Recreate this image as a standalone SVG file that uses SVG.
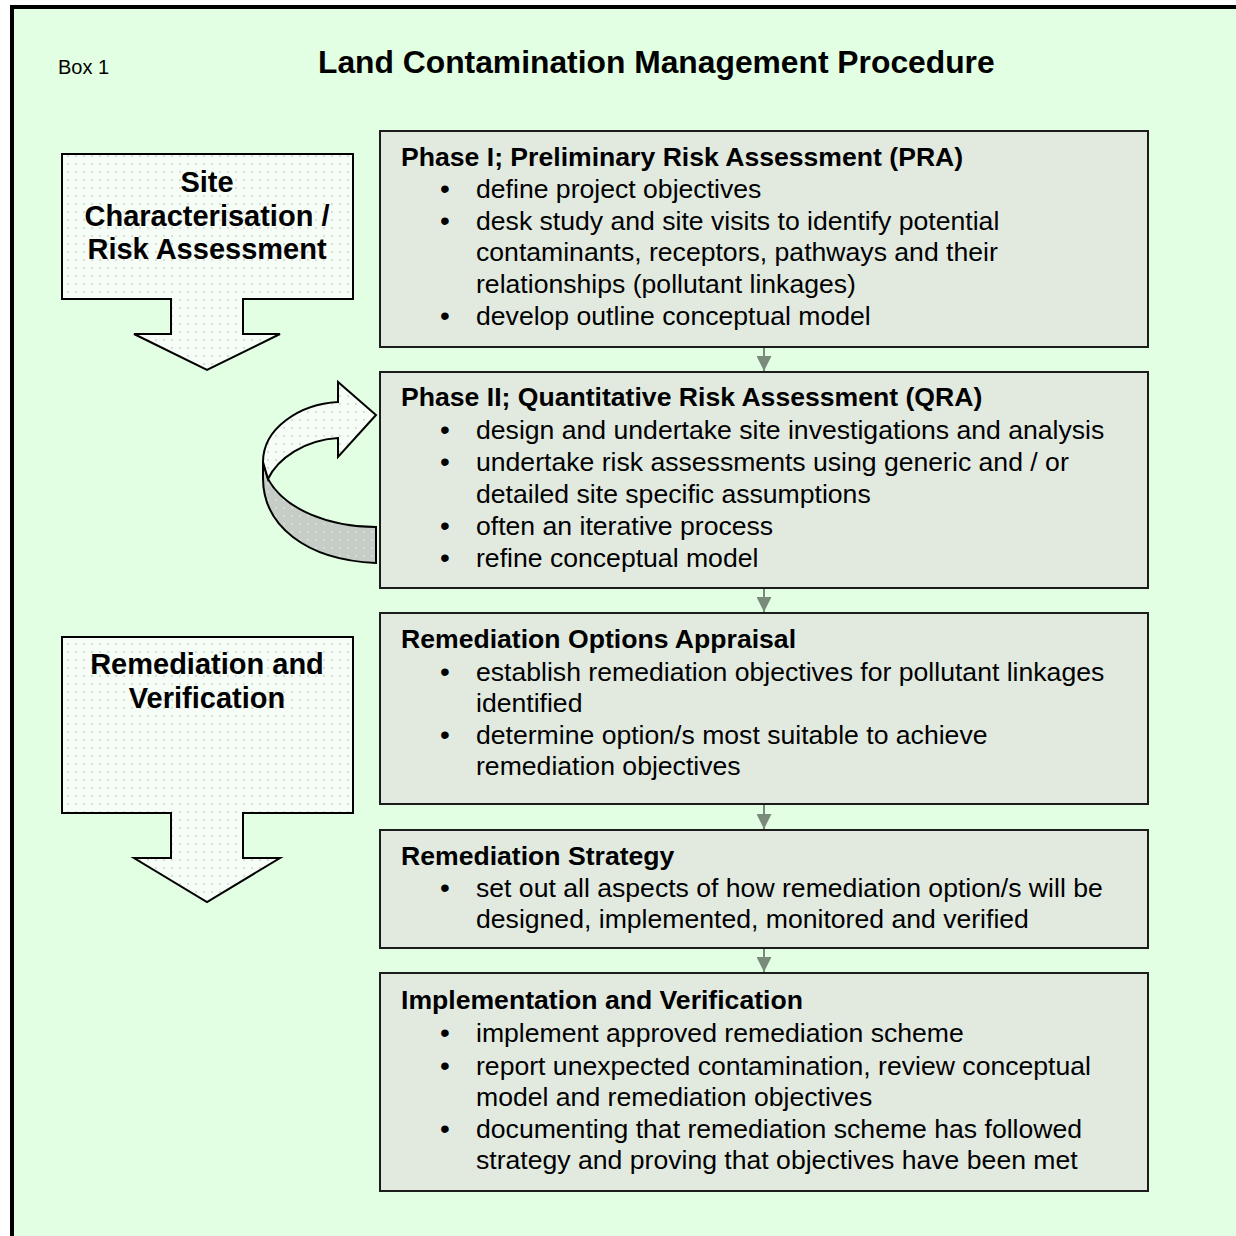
<svg xmlns="http://www.w3.org/2000/svg" width="1236" height="1236" viewBox="0 0 1236 1236">
<defs>
<pattern id="dots" width="8" height="8" patternUnits="userSpaceOnUse">
<rect width="8" height="8" fill="#f6fcf6"/>
<circle cx="4" cy="4" r="0.9" fill="#c9d2c9"/>
</pattern>
<pattern id="dotsDark" width="8" height="8" patternUnits="userSpaceOnUse">
<rect width="8" height="8" fill="#c6cdc6"/>
<circle cx="4" cy="4" r="0.9" fill="#dde3dd"/>
</pattern>
<marker id="ah" markerWidth="15" markerHeight="15" refX="15" refY="7.5" orient="auto" markerUnits="userSpaceOnUse">
<path d="M0,0 L15,7.5 L0,15 Z" fill="#7b8b7b"/>
</marker>
</defs>
<style>
text{font-family:"Liberation Sans",Arial,sans-serif;fill:#000}
.t{font-size:26.6px;font-weight:bold}
.b{font-size:26.6px}
.bl{font-size:28px;text-anchor:middle}
.arr{font-size:29px;font-weight:bold;text-anchor:middle}
.box{fill:#e2eae0;stroke:#1c1c1c;stroke-width:2}
.big{fill:url(#dots);stroke:#000;stroke-width:2;stroke-linejoin:miter}
.con{stroke:#7b8b7b;stroke-width:2;fill:none}
</style>
<rect x="0" y="0" width="1236" height="1236" fill="#ffffff"/>
<rect x="12" y="7" width="1240" height="1240" fill="#e3ffe3" stroke="#000" stroke-width="4"/>
<text x="58" y="74" style="font-size:20px">Box 1</text>
<text x="318" y="73" style="font-size:31.8px;font-weight:bold">Land Contamination Management Procedure</text>

<g id="arrow-site">
<path class="big" d="M62,154 H353 V299 H243 V334 H280 L207,370 L134,334 H171 V299 H62 Z"/>
<text class="arr" x="207" y="192">Site</text>
<text class="arr" x="207" y="226">Characterisation /</text>
<text class="arr" x="207" y="259">Risk Assessment</text>
</g>

<g id="arrow-remediation">
<path class="big" d="M62,637 H353 V813 H243 V858 H280 L207,902 L134,858 H171 V813 H62 Z"/>
<text class="arr" x="207" y="674">Remediation and</text>
<text class="arr" x="207" y="708">Verification</text>
</g>

<g id="curved-arrow">
<path fill="url(#dotsDark)" stroke="#000" stroke-width="2" d="M263,462 L268,479 C285,510 330,527 376,527 L376,563 C305,560 263,525 263,478 Z"/>
<path fill="url(#dots)" stroke="#000" stroke-width="2" stroke-linejoin="miter" d="M338,402 L338,382 L376,415 L338,457 L338,438 C305,440 278,458 268,479 L263,462 C263,428 300,404 338,402 Z"/>
</g>

<g id="phase1">
<rect class="box" x="380" y="131" width="768" height="216"/>
<text class="t" x="401" y="166">Phase I; Preliminary Risk Assessment (PRA)</text>
<text class="bl" x="445" y="198">•</text>
<text class="b" x="476" y="198">define project objectives</text>
<text class="bl" x="445" y="230">•</text>
<text class="b" x="476" y="230">desk study and site visits to identify potential</text>
<text class="b" x="476" y="261">contaminants, receptors, pathways and their</text>
<text class="b" x="476" y="293">relationships (pollutant linkages)</text>
<text class="bl" x="445" y="325">•</text>
<text class="b" x="476" y="325">develop outline conceptual model</text>
</g>

<g id="phase2">
<rect class="box" x="380" y="372" width="768" height="216"/>
<text class="t" x="401" y="406">Phase II; Quantitative Risk Assessment (QRA)</text>
<text class="bl" x="445" y="439">•</text>
<text class="b" x="476" y="439">design and undertake site investigations and analysis</text>
<text class="bl" x="445" y="471">•</text>
<text class="b" x="476" y="471">undertake risk assessments using generic and / or</text>
<text class="b" x="476" y="503">detailed site specific assumptions</text>
<text class="bl" x="445" y="535">•</text>
<text class="b" x="476" y="535">often an iterative process</text>
<text class="bl" x="445" y="567">•</text>
<text class="b" x="476" y="567">refine conceptual model</text>
</g>

<g id="options">
<rect class="box" x="380" y="613" width="768" height="191"/>
<text class="t" x="401" y="648">Remediation Options Appraisal</text>
<text class="bl" x="445" y="681">•</text>
<text class="b" x="476" y="681">establish remediation objectives for pollutant linkages</text>
<text class="b" x="476" y="712">identified</text>
<text class="bl" x="445" y="744">•</text>
<text class="b" x="476" y="744">determine option/s most suitable to achieve</text>
<text class="b" x="476" y="775">remediation objectives</text>
</g>

<g id="strategy">
<rect class="box" x="380" y="830" width="768" height="118"/>
<text class="t" x="401" y="865">Remediation Strategy</text>
<text class="bl" x="445" y="897">•</text>
<text class="b" x="476" y="897">set out all aspects of how remediation option/s will be</text>
<text class="b" x="476" y="928">designed, implemented, monitored and verified</text>
</g>

<g id="implementation">
<rect class="box" x="380" y="973" width="768" height="218"/>
<text class="t" x="401" y="1009">Implementation and Verification</text>
<text class="bl" x="445" y="1042">•</text>
<text class="b" x="476" y="1042">implement approved remediation scheme</text>
<text class="bl" x="445" y="1075">•</text>
<text class="b" x="476" y="1075">report unexpected contamination, review conceptual</text>
<text class="b" x="476" y="1106">model and remediation objectives</text>
<text class="bl" x="445" y="1138">•</text>
<text class="b" x="476" y="1138">documenting that remediation scheme has followed</text>
<text class="b" x="476" y="1169">strategy and proving that objectives have been met</text>
</g>

<g id="connectors">
<line class="con" x1="764" y1="348" x2="764" y2="371" marker-end="url(#ah)"/>
<line class="con" x1="764" y1="589" x2="764" y2="612" marker-end="url(#ah)"/>
<line class="con" x1="764" y1="805" x2="764" y2="829" marker-end="url(#ah)"/>
<line class="con" x1="764" y1="949" x2="764" y2="972" marker-end="url(#ah)"/>
</g>
</svg>
